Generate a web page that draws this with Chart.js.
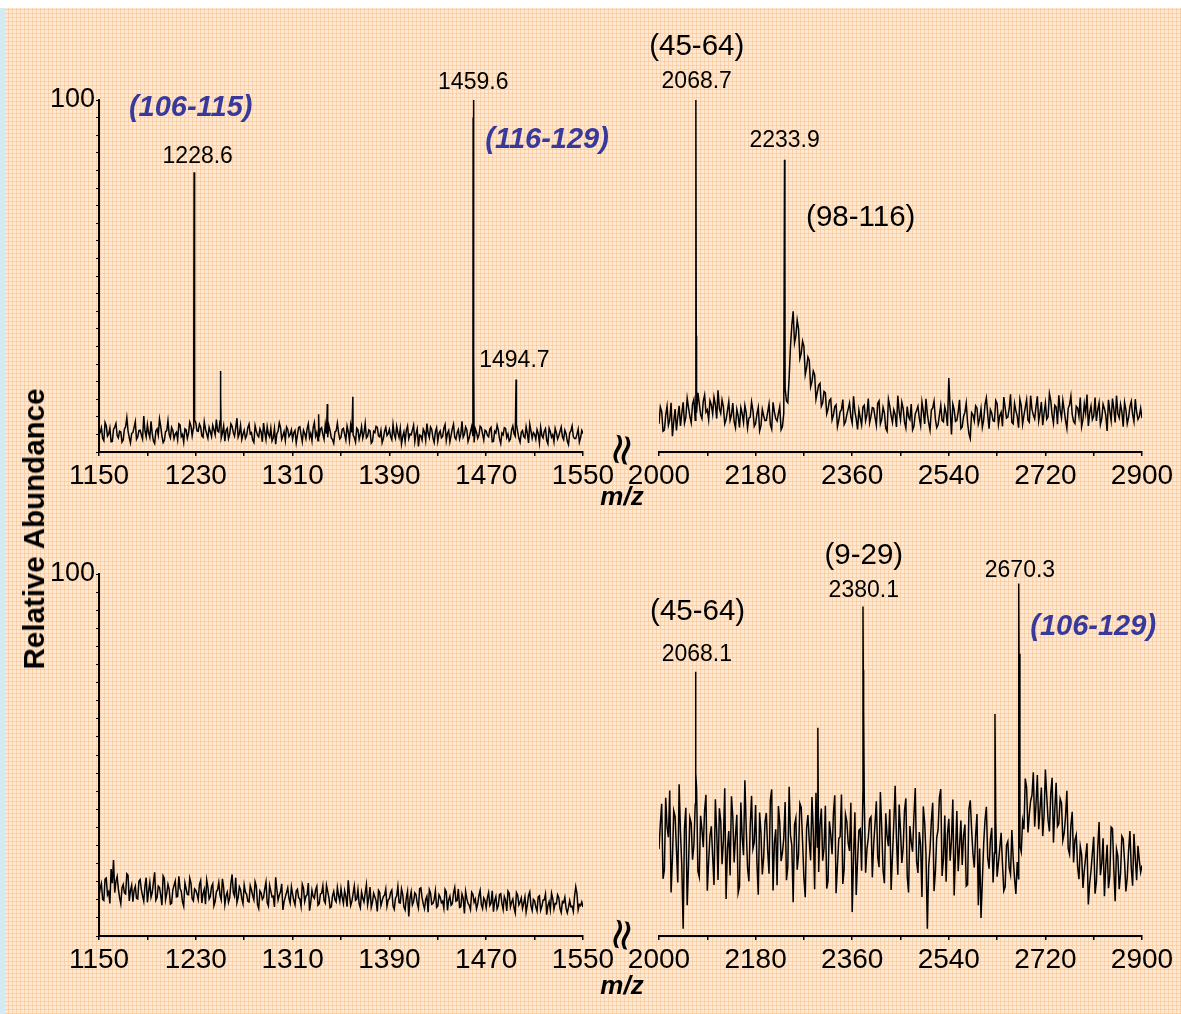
<!DOCTYPE html>
<html>
<head>
<meta charset="utf-8">
<script src="https://cdn.jsdelivr.net/npm/chart.js@4.4.1/dist/chart.umd.min.js"></script>
<style>
  html, body { margin: 0; padding: 0; }
  body { width: 1181px; height: 1014px; position: relative; overflow: hidden; background: #fff;
         font-family: 'Liberation Sans', Arial, sans-serif; }
  #paper { position: absolute; left: 0; top: 8px; width: 1181px; height: 1006px; background-color: #fde8d3;
           background-image:
             repeating-linear-gradient(0deg, rgba(249, 190, 130, 0.5) 0 1px, transparent 1px 4px),
             repeating-linear-gradient(90deg, rgba(249, 190, 130, 0.5) 0 1px, transparent 1px 4px); }
  #strip { position: absolute; left: 0; top: 8px; width: 5px; height: 1006px; background: #d4ebf1; }
  canvas { position: absolute; }
  .ytitle { position: absolute; left: 34px; top: 529px; transform: translate(-50%, -50%) rotate(-90deg);
            font: bold 29.5px 'Liberation Sans', Arial, sans-serif; white-space: nowrap; color: #000; }
  .mz { position: absolute; transform: translate(-50%, -50%); font: bold italic 26px 'Liberation Sans', Arial, sans-serif; color: #000; }
  .brk { position: absolute; transform: translate(-50%, -50%) rotate(100deg); font: 44px 'DejaVu Sans', sans-serif; line-height: 1; color: #000; }
</style>
</head>
<body>
<div id="paper"></div>
<div id="strip"></div>

<canvas id="tl" width="625" height="530" style="left:0;top:0"></canvas>
<canvas id="tr" width="561" height="530" style="left:620px;top:0"></canvas>
<canvas id="bl" width="625" height="524" style="left:0;top:490px"></canvas>
<canvas id="br" width="561" height="524" style="left:620px;top:490px"></canvas>

<div class="ytitle">Relative Abundance</div>
<div class="brk" style="left:623px;top:450px">≈</div>
<div class="brk" style="left:623px;top:935px">≈</div>
<div class="mz" style="left:622px;top:496px">m/z</div>
<div class="mz" style="left:622px;top:985px">m/z</div>

<script>
// MALDI spectra — two runs, two m/z windows each

Chart.defaults.font.family = "'Liberation Sans', Arial, sans-serif";
Chart.defaults.color = '#000';

// ─── Axes ───────────────────────────────────────────────────────────────────
const leftTicks = [1150, 1190, 1230, 1270, 1310, 1350, 1390, 1430, 1470, 1510, 1550];
const leftTickLabels = [1150, 1230, 1310, 1390, 1470, 1550];
const rightTicks = [2000, 2090, 2180, 2270, 2360, 2450, 2540, 2630, 2720, 2810, 2900];
const rightTickLabels = [2000, 2180, 2360, 2540, 2720, 2900];
const yTicks = [0, 5, 10, 15, 20, 25, 30, 35, 40, 45, 50, 55, 60, 65, 70, 75, 80, 85, 90, 95, 100];
const yTickLabels = [100];

// noise is read every STEP m/z from the window start (…Noise),
// plus the samples half a step later (…NoiseMid)
const LEFT_START = 1150, LEFT_STEP = 2;
const RIGHT_START = 2000, RIGHT_STEP = 5;

// ─── Top run ────────────────────────────────────────────────────────────────
const tlNoise = [
  4.8, 6.9, 3.2, 7.5, 5.1, 2.9, 6.4, 8.1, 4.0, 5.7, 3.4, 7.2, 6.0, 2.6, 5.5, 8.6, 4.3, 6.2, 3.7, 5.9,
  7.8, 4.1, 5.2, 2.4, 6.6, 9.4, 4.6, 3.3, 6.1, 5.0, 7.0, 3.8, 5.6, 8.0, 4.4, 2.8, 6.3, 5.3, 7.4, 6.8,
  8.3, 5.9, 7.1, 4.2, 6.5, 3.9, 5.8, 7.6, 4.9, 6.0, 8.8, 5.4, 3.1, 6.7, 5.0, 7.3, 4.5, 9.6, 5.2, 3.6,
  6.2, 4.7, 7.9, 5.5, 2.7, 6.0, 4.3, 5.7, 8.2, 3.5, 5.1, 6.8, 4.0, 2.2, 5.9, 7.0, 4.6, 3.3, 6.4, 5.0,
  3.7, 6.1, 4.8, 7.2, 2.9, 5.3, 6.6, 4.1, 3.2, 8.4, 5.6, 4.4, 6.9, 3.6, 5.2, 7.5, 4.0, 2.5, 6.0, 5.4,
  4.2, 6.7, 3.4, 5.8, 7.7, 4.9, 2.8, 6.3, 5.1, 3.9, 8.1, 4.5, 6.0, 3.0, 5.5, 7.0, 4.3, 2.6, 5.9, 4.7,
  6.4, 3.5, 5.0, 7.3, 4.1, 2.3, 5.7, 6.2, 3.8, 4.9, 7.6, 5.2, 1.6, 4.6, 6.5, 3.3, 5.4, 7.1, 4.0, 5.8,
  3.1, 6.0, 4.4, 7.8, 5.3, 2.9, 6.6, 4.2, 5.5, 3.7, 8.7, 5.0, 6.3, 4.1, 7.2, 2.7, 5.6, 4.8, 6.9, 3.4,
  5.9, 4.3, 7.0, 3.0, 5.4, 6.2, 2.4, 4.9, 6.7, 5.1, 3.6, 7.4, 4.5, 5.8, 2.8, 6.1, 4.0, 5.3, 7.9, 3.9,
  5.0, 6.4, 2.6, 4.7, 5.9, 3.3, 6.8, 4.2, 2.9, 5.5, 4.6, 7.1, 3.5, 5.2, 2.1, 6.0, 4.4, 3.8, 6.5, 4.1,
  5.2
];
const tlNoiseMid = [
  5.6, 3.9, 8.4, 4.5, 6.8, 3.0, 7.1, 4.7, 5.9, 2.8, 6.5, 9.8, 4.1, 5.3, 7.0, 3.6, 6.1, 4.9, 10.2, 4.3,
  5.4, 8.7, 3.1, 6.0, 4.8, 7.3, 2.7, 5.8, 8.9, 4.0, 6.2, 5.1, 3.5, 7.7, 5.0, 6.6, 3.9, 8.5, 4.6, 9.1,
  6.0, 7.9, 4.6, 8.6, 5.2, 7.0, 4.4, 6.3, 9.2, 5.7, 4.0, 7.4, 6.1, 3.8, 8.0, 5.5, 6.9, 4.2, 7.6, 5.0,
  3.9, 6.9, 5.1, 3.4, 7.5, 4.8, 6.6, 2.9, 5.6, 7.2, 4.3, 3.1, 6.7, 5.2, 8.3, 3.6, 5.8, 7.1, 4.4, 6.3,
  5.5, 2.6, 7.0, 4.9, 6.2, 3.8, 8.0, 5.3, 6.9, 4.5, 3.2, 6.5, 5.0, 7.8, 4.2, 6.0, 3.5, 5.7, 8.2, 3.7,
  6.4, 5.0, 7.4, 3.3, 5.6, 4.1, 6.8, 3.6, 7.2, 5.4, 4.0, 6.3, 2.5, 5.9, 7.3, 4.6, 6.1, 3.8, 7.0, 5.2,
  4.4, 7.8, 3.9, 5.5, 6.7, 4.3, 3.0, 7.4, 5.1, 6.2, 2.9, 6.6, 4.8, 3.4, 5.7, 8.1, 4.1, 6.4, 2.7, 6.9,
  5.3, 4.0, 6.8, 3.2, 6.1, 4.7, 7.9, 3.6, 6.4, 5.0, 4.2, 7.1, 3.0, 5.8, 4.5, 6.6, 3.9, 7.3, 5.1, 6.2,
  4.7, 6.5, 2.9, 5.9, 7.6, 3.8, 5.4, 6.9, 4.1, 3.1, 6.3, 5.2, 7.8, 3.9, 5.6, 4.4, 7.2, 2.6, 6.0, 5.5,
  3.6, 5.3, 7.0, 4.0, 6.6, 2.3, 5.8, 4.9, 6.7, 3.7, 5.9, 4.3, 6.2, 3.1, 5.4, 7.4, 3.8, 5.0, 2.8, 6.1
];
const tlPeakMz = [1228.3, 1228.6, 1250.2, 1250.8, 1331.5, 1338.7, 1359.8, 1459.2, 1459.4, 1459.6, 1459.9, 1494.7];
const tlPeakInt = [25, 79.5, 23, 16, 10.7, 13.6, 15.7, 95, 30, 100, 28, 20.6];

const trNoise = [
  8.0, 11.5, 6.2, 13.0, 9.1, 4.5, 12.2, 10.0, 7.4, 14.1, 9.8, 12.6, 8.3, 15.0, 11.2, 13.8, 9.5, 16.2, 12.0, 14.6,
  10.8, 13.5, 17.5, 11.0, 12.8, 9.2, 14.3, 10.5, 8.6, 12.1, 7.0, 10.9, 13.2, 6.8, 9.9, 11.8, 8.1, 12.7, 7.5, 10.3,
  9.0, 13.6, 6.5, 11.4, 8.8, 12.9, 7.2, 18.0, 14.0, 30.0, 40.0, 33.0, 35.0, 28.0, 30.0, 24.0, 26.0, 20.0, 22.0, 17.0,
  19.5, 14.0, 16.8, 12.2, 15.1, 10.5, 13.4, 9.0, 12.0, 7.8, 10.6, 13.9, 8.2, 11.5, 6.4, 9.7, 12.8, 8.9, 15.2, 10.1,
  12.4, 7.6, 14.5, 9.3, 11.1, 5.9, 13.0, 8.4, 10.7, 16.0, 9.1, 12.3, 6.8, 10.0, 13.6, 7.3, 11.8, 9.6, 14.2, 8.0,
  10.9, 6.2, 12.5, 9.4, 7.7, 13.3, 8.6, 11.0, 21.0, 5.0, 12.0, 9.0, 14.8, 7.1, 11.3, 8.3, 3.8, 10.6, 13.1, 7.9,
  12.2, 9.1, 15.4, 6.6, 11.0, 8.7, 13.7, 10.3, 7.3, 12.6, 9.9, 16.4, 8.0, 11.7, 6.9, 13.2, 10.4, 14.9, 8.5, 12.1,
  9.4, 15.8, 11.2, 7.6, 13.9, 10.0, 14.6, 8.2, 12.8, 16.1, 9.7, 11.9, 6.7, 13.4, 10.6, 8.1, 12.5, 15.5, 9.2, 11.0,
  7.4, 13.1, 10.2, 8.8, 14.0, 9.5, 12.3, 6.0, 11.6, 15.2, 8.4, 10.9, 13.5, 7.2, 12.0, 9.8, 14.4, 8.6, 11.3, 10.1,
  9.6
];
const trNoiseMid = [
  12.8, 5.9, 10.4, 7.6, 14.0, 8.7, 6.1, 13.1, 11.0, 8.2, 15.3, 10.1, 13.7, 9.0, 16.8, 10.6, 14.4, 11.3, 9.2, 13.4,
  15.6, 9.5, 12.4, 14.8, 8.0, 11.7, 9.0, 13.9, 6.9, 10.2, 12.6, 8.4, 11.1, 9.6, 14.2, 7.3, 10.8, 6.0, 12.1, 8.9,
  11.3, 7.8, 14.1, 9.5, 10.9, 6.3, 11.0, 14.5, 21.0, 36.0, 31.0, 37.5, 26.5, 31.5, 22.0, 27.0, 18.5, 23.0, 15.0, 19.0,
  13.0, 17.2, 10.8, 14.6, 9.1, 12.9, 7.2, 11.4, 14.9, 8.6, 12.2, 10.0, 15.8, 9.4, 11.9, 7.7, 13.3, 10.7, 8.3, 12.6,
  9.9, 13.8, 8.0, 12.7, 6.7, 15.0, 10.3, 12.0, 7.1, 11.5, 14.1, 8.5, 12.9, 9.2, 6.3, 10.8, 13.0, 7.5, 11.6, 15.1,
  8.3, 11.9, 14.4, 6.9, 10.5, 9.0, 12.8, 7.4, 12.2, 13.6, 8.7, 11.4, 6.6, 10.1, 13.9, 5.2, 11.2, 8.8, 12.5, 9.4,
  7.0, 13.5, 10.7, 12.0, 8.9, 14.6, 7.8, 11.3, 15.6, 9.6, 12.3, 8.4, 13.8, 10.2, 15.0, 7.9, 12.7, 9.1, 16.0, 10.5,
  12.9, 8.8, 14.2, 11.0, 9.3, 16.6, 10.5, 13.3, 7.9, 11.8, 14.7, 9.0, 12.4, 15.9, 8.7, 13.0, 10.1, 7.2, 13.7, 16.3,
  11.1, 9.2, 15.5, 12.0, 7.8, 13.6, 10.4, 14.8, 8.9, 12.2, 16.0, 9.7, 11.4, 14.1, 8.0, 12.9, 10.6, 15.0, 9.3, 12.4
];
const trPeakMz = [2068.7, 2069.4, 2233.9, 2234.6];
const trPeakInt = [100, 33, 83, 60];

// ─── Bottom run ─────────────────────────────────────────────────────────────
const blNoise = [
  11.0, 14.5, 9.8, 16.0, 12.2, 18.5, 21.0, 15.1, 13.0, 8.9, 14.2, 11.6, 16.8, 12.5, 9.5, 13.7, 10.2, 15.6, 11.1, 13.9,
  9.3, 14.8, 12.0, 17.6, 10.6, 13.4, 8.5, 15.9, 11.8, 12.9, 9.0, 14.0, 10.8, 16.5, 12.3, 8.2, 13.1, 11.4, 14.6, 9.7,
  12.6, 10.1, 15.3, 11.7, 8.8, 13.5, 10.9, 14.4, 9.6, 12.8, 11.3, 15.8, 8.7, 12.1, 10.5, 17.0, 11.0, 9.2, 13.6, 10.3,
  14.1, 11.5, 9.4, 12.7, 10.0, 13.8, 7.6, 11.9, 10.7, 14.9, 8.3, 12.4, 11.0, 16.2, 9.9, 12.2, 7.2, 10.8, 13.3, 9.1,
  11.6, 8.6, 12.9, 10.2, 14.3, 9.5, 11.4, 7.0, 12.6, 10.4, 13.7, 8.9, 11.8, 9.8, 14.0, 10.6, 8.1, 12.3, 9.4, 11.2,
  13.1, 9.0, 10.9, 15.4, 8.4, 11.7, 9.9, 12.8, 7.8, 10.5, 11.9, 8.6, 13.5, 9.3, 10.8, 6.8, 12.0, 9.7, 11.3, 8.2,
  10.4, 12.7, 7.4, 11.1, 9.2, 13.0, 8.0, 10.6, 5.4, 12.2, 9.5, 11.4, 7.7, 13.3, 8.8, 10.1, 6.6, 11.8, 9.0, 12.5,
  8.3, 10.7, 9.6, 12.9, 7.1, 11.0, 8.9, 13.4, 9.8, 7.9, 11.6, 6.2, 10.3, 8.5, 12.1, 9.3, 7.5, 11.2, 8.7, 10.5,
  7.8, 12.0, 9.1, 6.7, 10.9, 8.4, 11.7, 7.3, 9.9, 12.4, 8.0, 10.2, 6.4, 11.3, 9.4, 7.6, 10.8, 8.6, 12.2, 7.0,
  9.7, 6.9, 11.1, 8.2, 10.0, 5.9, 9.5, 11.8, 7.4, 8.9, 10.6, 6.5, 9.2, 7.7, 7.9, 8.1, 6.8, 13.6, 7.2, 8.4,
  8.0
];
const blNoiseMid = [
  13.2, 10.1, 15.7, 11.4, 9.0, 14.6, 12.0, 16.4, 10.6, 13.3, 11.9, 17.2, 9.7, 14.0, 12.6, 10.4, 15.1, 12.8, 9.6, 16.1,
  12.4, 10.7, 14.9, 9.9, 13.8, 11.2, 16.6, 10.0, 14.3, 8.8, 12.7, 15.2, 10.9, 13.1, 9.4, 14.7, 11.5, 16.0, 10.3, 13.0,
  11.6, 14.2, 9.1, 12.9, 15.5, 10.2, 13.6, 8.4, 12.2, 14.8, 10.0, 13.4, 11.1, 9.3, 14.5, 12.0, 16.1, 10.6, 12.8, 8.9,
  12.1, 9.6, 13.9, 11.2, 15.0, 8.7, 12.5, 10.1, 13.1, 9.2, 14.0, 10.8, 8.0, 12.9, 11.3, 14.4, 9.5, 12.0, 10.4, 13.6,
  9.8, 12.4, 10.6, 8.2, 13.2, 11.0, 14.6, 9.3, 10.9, 12.7, 8.5, 11.6, 13.9, 9.1, 12.3, 7.8, 11.1, 10.0, 13.4, 9.6,
  10.7, 12.5, 8.1, 11.4, 9.6, 13.8, 10.2, 8.9, 12.1, 9.4, 14.2, 10.5, 7.9, 11.8, 9.7, 12.6, 8.4, 10.9, 13.0, 9.9,
  12.0, 8.3, 10.4, 13.7, 9.1, 11.5, 7.2, 12.4, 10.3, 8.6, 11.9, 9.0, 13.1, 10.6, 7.5, 11.0, 12.8, 8.8, 10.1, 7.9,
  11.4, 9.2, 7.7, 12.2, 10.0, 8.5, 11.8, 9.6, 13.0, 8.1, 10.4, 12.3, 9.0, 7.3, 11.5, 10.2, 8.9, 12.6, 7.6, 9.8,
  10.6, 8.4, 12.5, 9.7, 7.5, 11.4, 9.0, 10.9, 6.9, 11.8, 9.3, 7.8, 12.0, 8.6, 10.5, 9.1, 6.6, 11.2, 8.3, 10.1,
  8.0, 10.8, 7.1, 9.9, 11.6, 8.4, 7.2, 10.3, 9.0, 11.4, 7.6, 9.5, 10.7, 6.4, 9.8, 8.2, 10.9, 11.7, 8.7, 9.4
];
const blPeakMz = [];
const blPeakInt = [];

const brNoise = [
  24.0, 36.5, 18.2, 30.1, 40.2, 21.5, 33.0, 14.8, 28.6, 2.0, 35.4, 19.7, 31.2, 25.0, 41.0, 16.3, 29.4, 34.8, 12.5, 27.7,
  22.0, 37.8, 15.5, 31.9, 26.4, 10.2, 29.0, 38.6, 20.3, 33.5, 13.7, 27.2, 43.0, 18.8, 30.6, 24.1, 36.2, 11.4, 28.3, 21.7,
  34.0, 17.2, 40.5, 25.6, 14.0, 31.3, 23.0, 37.0, 19.1, 27.9, 9.3, 32.6, 22.4, 35.5, 16.0, 29.8, 26.2, 38.4, 12.9, 24.6,
  30.5, 20.8, 36.0, 15.2, 28.0, 33.8, 11.8, 26.9, 39.1, 18.4, 31.6, 23.5, 6.6, 34.2, 21.0, 29.6, 40.0, 17.5, 27.1, 32.9,
  25.3, 37.2, 19.0, 30.0, 14.6, 27.5, 35.0, 22.2, 41.5, 16.9, 29.1, 24.4, 38.0, 12.0, 26.0, 33.1, 20.5, 28.7, 10.8, 31.4,
  2.0, 23.9, 36.8, 17.8, 29.3, 40.6, 21.3, 15.0, 32.4, 26.6, 11.2, 34.5, 24.8, 19.6, 30.8, 14.2, 37.5, 22.7, 27.8, 8.5,
  5.0, 25.5, 35.7, 18.6, 29.9, 22.9, 16.4, 24.3, 19.9, 13.6, 26.1, 17.0, 21.4, 11.6, 15.8, 23.2, 29.5, 41.0, 33.6, 38.9,
  30.2, 44.5, 35.1, 27.6, 46.0, 32.0, 39.4, 25.8, 42.3, 31.0, 36.7, 28.4, 40.1, 22.6, 34.3, 26.5, 19.2, 24.7, 13.3, 21.8,
  8.7, 18.0, 27.4, 14.9, 31.5, 20.1, 11.0, 25.2, 16.6, 29.7, 9.6, 22.1, 17.3, 26.8, 12.3, 23.6, 18.7, 28.2, 15.4, 20.9,
  19.5
];
const brNoiseMid = [
  31.0, 15.8, 38.2, 27.3, 12.0, 34.6, 23.8, 41.9, 19.4, 29.8, 8.5, 32.7, 21.1, 36.4, 17.9, 33.2, 24.5, 39.0, 20.6, 30.3,
  14.1, 28.9, 35.3, 19.8, 40.8, 24.0, 16.7, 33.0, 27.6, 11.9, 36.9, 22.3, 30.0, 15.1, 38.7, 25.9, 20.0, 34.1, 17.0, 31.5,
  23.7, 37.6, 12.6, 29.5, 35.9, 20.7, 27.0, 15.4, 41.2, 24.9, 30.7, 18.3, 36.6, 26.1, 10.7, 33.4, 20.9, 28.8, 39.6, 17.7,
  35.2, 24.2, 13.1, 31.7, 22.6, 38.9, 19.3, 27.4, 14.4, 33.6, 25.7, 36.8, 21.6, 11.3, 29.2, 18.0, 37.4, 24.0, 32.3, 16.2,
  30.9, 21.9, 39.8, 18.1, 33.9, 24.8, 12.7, 31.0, 27.0, 36.3, 20.2, 34.7, 16.5, 30.4, 23.3, 40.9, 17.4, 25.1, 35.8, 22.5,
  19.2, 31.8, 12.4, 27.2, 38.3, 16.6, 33.3, 28.1, 20.8, 37.7, 23.4, 17.9, 31.9, 27.7, 13.8, 35.0, 29.4, 18.9, 33.7, 24.2,
  15.2, 32.1, 21.6, 26.7, 14.8, 31.4, 20.2, 28.5, 12.5, 25.0, 18.9, 29.3, 15.9, 20.4, 24.8, 31.8, 43.5, 28.6, 37.3, 45.2,
  36.4, 29.5, 41.0, 33.2, 38.6, 28.9, 43.7, 34.8, 30.3, 37.9, 26.4, 33.0, 24.1, 30.6, 20.3, 27.9, 15.7, 22.4, 18.1, 25.6,
  14.5, 22.9, 11.7, 24.3, 16.8, 27.0, 19.5, 13.2, 30.1, 18.4, 24.0, 12.9, 27.6, 20.6, 16.1, 29.0, 13.9, 21.5, 24.9, 17.6
];
const brPeakMz = [2068.1, 2068.7, 2296.0, 2380.1, 2380.6, 2381.2, 2626.0, 2670.3, 2670.9];
const brPeakInt = [73, 45, 57.5, 91, 73.5, 63, 61.3, 97.4, 78];

// ─── Annotations: [text, m/z, abundance, kind] ─────────────────────────────
const tlNotes = [
  ['(106-115)', 1225.8, 97.7, 'region'],
  ['1228.6', 1231.6, 83.8, 'mass'],
  ['1459.6', 1459.3, 104.8, 'mass'],
  ['(116-129)', 1520.3, 88.6, 'region'],
  ['1494.7', 1493.3, 25.9, 'mass']
];
const trNotes = [
  ['(45-64)', 2070.3, 115.0, 'fragment'],
  ['2068.7', 2070.3, 105.1, 'mass'],
  ['2233.9', 2234.0, 88.4, 'mass'],
  ['(98-116)', 2375.9, 66.5, 'fragment']
];
const brNotes = [
  ['(45-64)', 2072.0, 89.5, 'fragment'],
  ['2068.1', 2070.5, 77.6, 'mass'],
  ['(9-29)', 2381.6, 105.0, 'fragment'],
  ['2380.1', 2381.6, 95.3, 'mass'],
  ['2670.3', 2672.6, 101.0, 'mass'],
  ['(106-129)', 2809.0, 85.4, 'region']
];

const NOTE_STYLES = {
  mass: { font: "23px 'Liberation Sans', Arial, sans-serif", color: '#000' },
  fragment: { font: "29.5px 'Liberation Sans', Arial, sans-serif", color: '#000' },
  region: { font: "italic bold 29px 'Liberation Sans', Arial, sans-serif", color: '#38399b' }
};

// ─── Helpers ────────────────────────────────────────────────────────────────

function buildTrace(start, step, noise, noiseMid, peakMz, peakInt) {
  const pts = noise.map((v, i) => ({ x: start + i * step, y: v }));
  noiseMid.forEach((v, i) => pts.push({ x: start + step / 2 + i * step, y: v }));
  peakMz.forEach((mz, i) => pts.push({ x: mz, y: peakInt[i] }));
  return pts.sort((a, b) => a.x - b.x);
}

const notesPlugin = {
  id: 'notes',
  afterDraw(chart, args, opts) {
    const { ctx, scales } = chart;
    ctx.save();
    ctx.textAlign = 'center';
    ctx.textBaseline = 'middle';
    for (const [text, mz, val, kind] of opts.items || []) {
      const st = NOTE_STYLES[kind];
      ctx.font = st.font;
      ctx.fillStyle = st.color;
      ctx.fillText(text, scales.x.getPixelForValue(mz), scales.y.getPixelForValue(val));
    }
    ctx.restore();
  }
};

function renderSpectrum(canvasId, opts) {
  const ctx = document.getElementById(canvasId).getContext('2d');
  return new Chart(ctx, {
    type: 'line',
    data: {
      datasets: [{
        data: buildTrace(opts.start, opts.step, opts.noise, opts.noiseMid, opts.peakMz, opts.peakInt),
        borderColor: '#000',
        borderWidth: 1.5,
        pointRadius: 0,
        tension: 0,
        fill: false
      }]
    },
    plugins: [notesPlugin],
    options: {
      responsive: false,
      animation: false,
      events: [],
      layout: { padding: opts.padding },
      plugins: {
        legend: { display: false },
        tooltip: { enabled: false },
        notes: { items: opts.notes }
      },
      scales: {
        x: {
          type: 'linear',
          min: opts.xTicks[0],
          max: opts.xTicks[opts.xTicks.length - 1],
          afterBuildTicks: s => { s.ticks = opts.xTicks.map(v => ({ value: v })); },
          afterFit: s => { s.height = opts.xAxisHeight; },
          grid: { drawOnChartArea: false, drawTicks: true, tickLength: 4, color: '#000', lineWidth: 1.5 },
          border: { display: true, color: '#000', width: 2 },
          ticks: {
            autoSkip: false,
            maxRotation: 0,
            padding: 3,
            color: '#000',
            font: { size: 28 },
            callback: v => opts.xLabels.includes(v) ? String(v) : ''
          }
        },
        y: {
          display: opts.showY,
          min: 0,
          max: 100,
          afterBuildTicks: s => { s.ticks = yTicks.map(v => ({ value: v })); },
          afterFit: s => { s.width = opts.showY ? opts.yAxisWidth : 0; },
          grid: { drawOnChartArea: false, drawTicks: true, tickLength: 3, color: '#000', lineWidth: 1 },
          border: { display: true, color: '#000', width: 2 },
          ticks: {
            autoSkip: false,
            padding: 1,
            color: '#000',
            font: { size: 27 },
            callback: v => yTickLabels.includes(v) ? String(v) : ''
          }
        }
      }
    }
  });
}

// ─── Panels ─────────────────────────────────────────────────────────────────

renderSpectrum('tl', {
  start: LEFT_START, step: LEFT_STEP, noise: tlNoise, noiseMid: tlNoiseMid, peakMz: tlPeakMz, peakInt: tlPeakInt,
  notes: tlNotes, xTicks: leftTicks, xLabels: leftTickLabels, showY: true,
  yAxisWidth: 99, xAxisHeight: 78, padding: { top: 100, left: 0, right: 42, bottom: 0 }
});

renderSpectrum('tr', {
  start: RIGHT_START, step: RIGHT_STEP, noise: trNoise, noiseMid: trNoiseMid, peakMz: trPeakMz, peakInt: trPeakInt,
  notes: trNotes, xTicks: rightTicks, xLabels: rightTickLabels, showY: false,
  yAxisWidth: 0, xAxisHeight: 78, padding: { top: 100, left: 39, right: 39, bottom: 0 }
});

renderSpectrum('bl', {
  start: LEFT_START, step: LEFT_STEP, noise: blNoise, noiseMid: blNoiseMid, peakMz: blPeakMz, peakInt: blPeakInt,
  notes: [], xTicks: leftTicks, xLabels: leftTickLabels, showY: true,
  yAxisWidth: 99, xAxisHeight: 78, padding: { top: 84, left: 0, right: 42, bottom: 0 }
});

renderSpectrum('br', {
  start: RIGHT_START, step: RIGHT_STEP, noise: brNoise, noiseMid: brNoiseMid, peakMz: brPeakMz, peakInt: brPeakInt,
  notes: brNotes, xTicks: rightTicks, xLabels: rightTickLabels, showY: false,
  yAxisWidth: 0, xAxisHeight: 78, padding: { top: 84, left: 39, right: 39, bottom: 0 }
});
</script>
</body>
</html>
